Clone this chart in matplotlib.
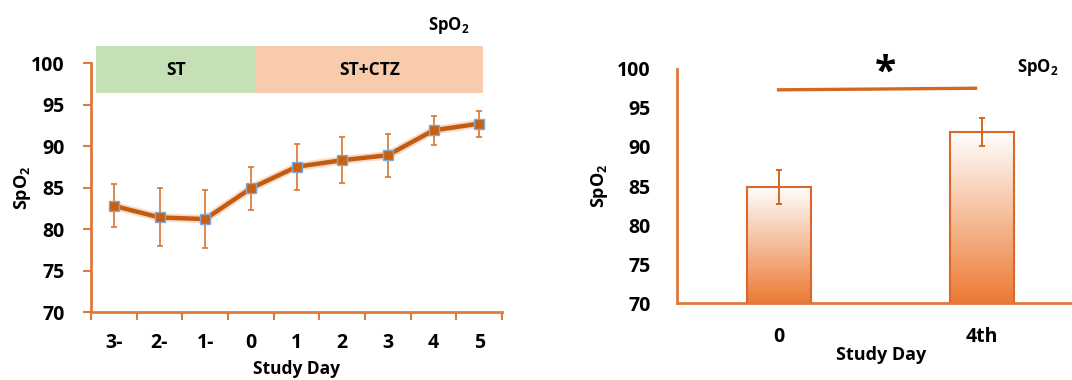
import numpy as np
import matplotlib
matplotlib.use('Agg')
import matplotlib.pyplot as plt
from matplotlib.colors import LinearSegmentedColormap
from matplotlib.patches import Rectangle
import matplotlib.patheffects as pe

plt.rcParams['font.family'] = ['Open Sans', 'DejaVu Sans']
plt.rcParams['font.weight'] = 'bold'
plt.rcParams['mathtext.fontset'] = 'custom'
plt.rcParams['mathtext.rm'] = 'Open Sans:bold'
plt.rcParams['mathtext.bf'] = 'Open Sans:bold'

# left panel: daily SpO2
days = ['3-', '2-', '1-', '0', '1', '2', '3', '4', '5']
spo2 = [82.8, 81.4, 81.2, 84.9, 87.5, 88.3, 88.9, 91.9, 92.7]
spo2_err = [2.6, 3.5, 3.5, 2.6, 2.75, 2.8, 2.6, 1.75, 1.55]
phases = ['ST', 'ST+CTZ']

# right panel: day 0 vs 4th
bar_days = ['0', '4th']
bar_vals = [84.9, 91.95]
bar_err = [2.2, 1.8]

LINE = '#C55A11'
AXC = '#DE7A3C'
ERRC = '#D9742F'
SPO2 = 'SpO$_\\mathbf{2}$'

fig = plt.figure(figsize=(10.72, 3.8), dpi=100)

# ---- left
ax1 = fig.add_axes([0.0849, 0.1789, 0.3834, 0.655])
x = np.arange(len(days))
ax1.errorbar(x, spo2, yerr=spo2_err, fmt='none', ecolor=ERRC, elinewidth=1.2,
             capsize=2.5, capthick=1.2, zorder=2)
ax1.plot(x, spo2, color=LINE, lw=3.2, zorder=3, solid_capstyle='round',
         path_effects=[pe.Stroke(linewidth=6, foreground='#F2C4A5', alpha=0.6), pe.Normal()])
ax1.plot(x, spo2, ls='none', marker='s', ms=6.5, mfc='#C8600F', mec='#7FAAD8', mew=1.0, zorder=4)
ax1.set_xlim(-0.5, len(days) - 0.5)
ax1.set_ylim(70, 100)
ax1.set_yticks(range(70, 101, 5))
ax1.set_xticks(x)
ax1.set_xticklabels(days)
ax1.set_xticks(np.arange(-0.5, len(days)), minor=True)
ax1.tick_params(axis='x', which='major', length=0, pad=15, labelsize=14)
ax1.tick_params(axis='x', which='minor', length=6, width=1.5, color=AXC, direction='out')
ax1.tick_params(axis='y', length=6, width=1.5, color=AXC, pad=13, labelsize=14)
for s in ['top', 'right']:
    ax1.spines[s].set_visible(False)
for s in ['left', 'bottom']:
    ax1.spines[s].set_color(AXC)
    ax1.spines[s].set_linewidth(2)
ax1.set_ylabel(SPO2, fontsize=13, fontweight='bold')
ax1.yaxis.set_label_coords(-0.141, 0.5)
fig.text(296.5 / 1072, 1 - 369 / 380, 'Study Day', ha='center', va='center',
         fontsize=12.5, fontweight='bold')

# phase boxes above the plot
ax1.add_patch(Rectangle((-0.39, 96.4), 3.5, 5.65, facecolor='#C5E0B4', edgecolor='none',
                        clip_on=False, zorder=1))
ax1.add_patch(Rectangle((3.11, 96.4), 4.97, 5.65, facecolor='#F8CBAD', edgecolor='none',
                        clip_on=False, zorder=1))
ax1.text(1.36, 99.2, phases[0], ha='center', va='center', fontsize=12.5, fontweight='bold')
ax1.text(5.6, 99.2, phases[1], ha='center', va='center', fontsize=12.5, fontweight='bold')
fig.text(449 / 1072, 1 - 25 / 380, SPO2, ha='center', va='center',
         fontsize=12, fontweight='bold')

# ---- right
ax2 = fig.add_axes([0.6315, 0.2018, 0.3685, 0.6174])
xb = np.arange(len(bar_days))
bw = 0.315
ax2.set_xlim(-0.5, 1.445)
ax2.set_ylim(70, 100)
cmap = LinearSegmentedColormap.from_list('grad', ['#EC7A34', '#FFFFFF'])
grad = np.linspace(0, 1, 256).reshape(-1, 1)
for xi, v in zip(xb, bar_vals):
    ax2.imshow(grad, extent=[xi - bw / 2, xi + bw / 2, 70, v], origin='lower',
               cmap=cmap, aspect='auto', zorder=2)
ax2.bar(xb, bar_vals, width=bw, bottom=0, facecolor='none', edgecolor='#D9692A', lw=1.5, zorder=3)
ax2.errorbar(xb, bar_vals, yerr=bar_err, fmt='none', ecolor='#D2691E', elinewidth=1.4,
             capsize=2.5, capthick=1.4, zorder=4)
ax2.set_ylim(70, 100)
ax2.set_xlim(-0.5, 1.445)
ax2.set_yticks(range(70, 101, 5))
ax2.set_xticks(xb)
ax2.set_xticklabels(bar_days)
ax2.tick_params(axis='x', length=0, pad=17, labelsize=14)
ax2.tick_params(axis='y', length=0, pad=19, labelsize=14)
for s in ['top', 'right']:
    ax2.spines[s].set_visible(False)
for s in ['left', 'bottom']:
    ax2.spines[s].set_color(AXC)
    ax2.spines[s].set_linewidth(2)
ax2.set_ylabel(SPO2, fontsize=13, fontweight='bold')
ax2.yaxis.set_label_coords(-0.17, 0.5)
fig.text(881 / 1072, 1 - 355 / 380, 'Study Day', ha='center', va='center',
         fontsize=13, fontweight='bold')

# significance bar
ax2.plot([0, 0.97], [97.3, 97.5], color='#D2691E', lw=2.4, clip_on=False, zorder=5)
ax2.text(0.527, 99.4, '*', ha='center', va='center', fontsize=28, fontweight='bold')
fig.text(1038 / 1072, 1 - 67 / 380, SPO2, ha='center', va='center',
         fontsize=12, fontweight='bold')

fig.savefig('out.png', dpi=100)
